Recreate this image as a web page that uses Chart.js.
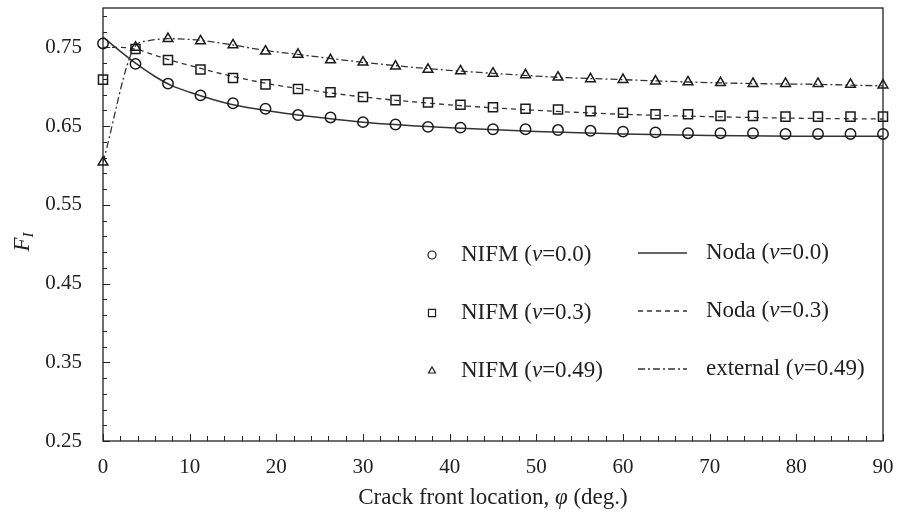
<!DOCTYPE html>
<html>
<head>
<meta charset="utf-8">
<script src="https://cdn.jsdelivr.net/npm/chart.js@4.4.1/dist/chart.umd.min.js"></script>
<style>
  html, body { margin: 0; padding: 0; background: #fff; }
  #wrap { width: 897px; height: 516px; }
</style>
</head>
<body>
<div id="wrap"><canvas id="fiChart" width="897" height="516"></canvas></div>
<script>
// crack front angle of the NIFM nodes (deg.)
const angles = [0, 3.75, 7.5, 11.25, 15, 18.75, 22.5, 26.25, 30, 33.75, 37.5, 41.25, 45,
  48.75, 52.5, 56.25, 60, 63.75, 67.5, 71.25, 75, 78.75, 82.5, 86.25, 90];

const nifm00 = [0.755, 0.729, 0.704, 0.689, 0.679, 0.672, 0.664, 0.661, 0.655, 0.652, 0.649, 0.648, 0.646,
  0.646, 0.645, 0.644, 0.643, 0.642, 0.641, 0.641, 0.641, 0.640, 0.640, 0.640, 0.640];
const nifm03 = [0.709, 0.748, 0.734, 0.722, 0.711, 0.703, 0.697, 0.693, 0.687, 0.683, 0.680, 0.677, 0.674,
  0.672, 0.671, 0.669, 0.667, 0.665, 0.665, 0.663, 0.663, 0.662, 0.662, 0.662, 0.662];
const nifm049 = [0.604, 0.750, 0.761, 0.758, 0.753, 0.745, 0.741, 0.734, 0.731, 0.726, 0.722, 0.720, 0.717,
  0.715, 0.712, 0.710, 0.709, 0.707, 0.706, 0.705, 0.704, 0.704, 0.704, 0.703, 0.702];

// reference curves
const nodaAngles = [0, 2, 4, 6, 8, 10, 15, 20, 25, 30, 40, 50, 60, 70, 80, 90];
const noda00 = [0.763, 0.745, 0.728, 0.713, 0.701, 0.693, 0.677, 0.668, 0.661, 0.655, 0.648, 0.643, 0.640, 0.638, 0.637, 0.637];
const noda03 = [0.750, 0.750, 0.747, 0.740, 0.733, 0.727, 0.713, 0.702, 0.694, 0.687, 0.677, 0.670, 0.665, 0.662, 0.660, 0.659];

const extAngles = [0, 3.75, 5, 7.5, 11.25, 15, 18.75, 22.5, 30, 37.5, 45, 52.5, 60, 67.5, 75, 82.5, 90];
const ext049 = [0.604, 0.752, 0.758, 0.761, 0.759, 0.753, 0.746, 0.741, 0.731, 0.723, 0.717, 0.712, 0.709, 0.706, 0.704, 0.703, 0.701];

const xTicks = [0, 10, 20, 30, 40, 50, 60, 70, 80, 90];
const yTicks = [0.25, 0.35, 0.45, 0.55, 0.65, 0.75];

const legendRows = [
  { marker: "circle", left: "NIFM", nu: "0.0", right: "Noda", rightNu: "0.0", dash: [] },
  { marker: "rect", left: "NIFM", nu: "0.3", right: "Noda", rightNu: "0.3", dash: [5, 4] },
  { marker: "triangle", left: "NIFM", nu: "0.49", right: "external", rightNu: "0.49", dash: [7, 3, 2, 3] },
];

const SERIF = "'Liberation Serif', 'Times New Roman', serif";
const INK = "#222";
const LINE = "#333";

const toXY = (xs, ys) => xs.map((x, i) => ({ x: x, y: ys[i] }));

const markerSet = (data, style, radius) => ({
  data: toXY(angles, data),
  showLine: false,
  pointStyle: style,
  pointRadius: radius,
  pointBorderColor: "#1a1a1a",
  pointBackgroundColor: "rgba(255,255,255,0)",
  pointBorderWidth: 1.5,
  clip: false,
  order: 0,
});

const curveSet = (xs, ys, dash, width) => ({
  data: toXY(xs, ys),
  showLine: true,
  pointRadius: 0,
  borderColor: LINE,
  borderWidth: width,
  borderDash: dash,
  cubicInterpolationMode: "monotone",
  order: 1,
});

// draws a sequence of text runs, some italic, starting at x
function drawRuns(ctx, runs, x, y, size) {
  let cx = x;
  runs.forEach((r) => {
    ctx.font = (r.italic ? "italic " : "") + size + "px " + SERIF;
    ctx.fillText(r.text, cx, y);
    cx += ctx.measureText(r.text).width;
  });
  return cx - x;
}

function runsWidth(ctx, runs, size) {
  let w = 0;
  runs.forEach((r) => {
    ctx.font = (r.italic ? "italic " : "") + size + "px " + SERIF;
    w += ctx.measureText(r.text).width;
  });
  return w;
}

const decorations = {
  id: "decorations",
  beforeDatasetsDraw(chart) {
    const { ctx, chartArea: a, scales } = chart;
    ctx.save();
    ctx.strokeStyle = INK;
    ctx.lineWidth = 1.3;
    ctx.strokeRect(a.left, a.top, a.right - a.left, a.bottom - a.top);

    // inward ticks on the bottom and left axes
    ctx.lineWidth = 1;
    ctx.beginPath();
    for (let v = 0; v <= 90; v += 2) {
      const px = Math.round(scales.x.getPixelForValue(v)) + 0.5;
      const len = v % 10 === 0 ? 7 : 5;
      ctx.moveTo(px, a.bottom);
      ctx.lineTo(px, a.bottom - len);
    }
    for (let i = 0; i <= 27; i++) {
      const v = 0.25 + i * 0.02;
      const py = Math.round(scales.y.getPixelForValue(v)) + 0.5;
      const len = i % 5 === 0 ? 7 : 4;
      ctx.moveTo(a.left, py);
      ctx.lineTo(a.left + len, py);
    }
    ctx.stroke();
    ctx.restore();
  },
  afterDraw(chart) {
    const { ctx, chartArea: a } = chart;
    ctx.save();
    ctx.fillStyle = INK;
    ctx.textBaseline = "middle";
    ctx.textAlign = "left";

    // x axis title
    const xRuns = [
      { text: "Crack front location, " },
      { text: "\u03c6", italic: true },
      { text: " (deg.)" },
    ];
    const xw = runsWidth(ctx, xRuns, 23);
    drawRuns(ctx, xRuns, (a.left + a.right) / 2 - xw / 2, 498, 23);

    // y axis title F_I
    ctx.save();
    ctx.translate(23, 242);
    ctx.rotate(-Math.PI / 2);
    ctx.font = "italic 23px " + SERIF;
    const fw = ctx.measureText("F").width;
    ctx.font = "italic 15px " + SERIF;
    const iw = ctx.measureText("I").width;
    const sx = -(fw + iw) / 2;
    ctx.font = "italic 23px " + SERIF;
    ctx.fillText("F", sx, 0);
    ctx.font = "italic 15px " + SERIF;
    ctx.fillText("I", sx + fw, 6);
    ctx.restore();

    // legend
    const rowY = [255, 313, 371];
    legendRows.forEach((row, i) => {
      const y = rowY[i];
      ctx.strokeStyle = "#1a1a1a";
      ctx.fillStyle = "rgba(255,255,255,0)";
      ctx.lineWidth = 1.2;
      Chart.helpers.drawPoint(ctx, { pointStyle: row.marker, radius: row.marker === "rect" ? 5 : 4, rotation: 0, borderWidth: 1.2 }, 432, y);

      ctx.fillStyle = INK;
      drawRuns(ctx, [
        { text: row.left + " (" },
        { text: "\u03bd", italic: true },
        { text: "=" + row.nu + ")" },
      ], 461, y, 23);

      ctx.beginPath();
      ctx.setLineDash(row.dash);
      ctx.lineWidth = 1.3;
      ctx.strokeStyle = LINE;
      ctx.moveTo(638, y - 2);
      ctx.lineTo(687, y - 2);
      ctx.stroke();
      ctx.setLineDash([]);

      drawRuns(ctx, [
        { text: row.right + " (" },
        { text: "\u03bd", italic: true },
        { text: "=" + row.rightNu + ")" },
      ], 706, y - 2, 23);
    });
    ctx.restore();
  },
};

const ctx = document.getElementById("fiChart").getContext("2d");
new Chart(ctx, {
  type: "scatter",
  data: {
    datasets: [
      markerSet(nifm00, "circle", 5.2),
      markerSet(nifm03, "rect", 6.4),
      markerSet(nifm049, "triangle", 5.6),
      curveSet(nodaAngles, noda00, [], 1.5),
      curveSet(nodaAngles, noda03, [5, 4], 1.3),
      curveSet(extAngles, ext049, [7, 3, 2, 3], 1.3),
    ],
  },
  options: {
    responsive: false,
    animation: false,
    events: [],
    layout: { padding: { top: 8, right: 14, left: 0, bottom: 0 } },
    plugins: {
      legend: { display: false },
      tooltip: { enabled: false },
    },
    scales: {
      x: {
        type: "linear",
        min: 0,
        max: 90,
        afterBuildTicks: (scale) => { scale.ticks = xTicks.map((v) => ({ value: v })); },
        afterFit: (scale) => {
          scale.height = 75;
          scale.paddingLeft = 0;
          scale.paddingRight = 0;
        },
        grid: { display: false, drawTicks: false },
        border: { display: false },
        ticks: {
          padding: 14,
          color: INK,
          font: { family: SERIF, size: 21 },
          maxRotation: 0,
        },
      },
      y: {
        type: "linear",
        min: 0.25,
        max: 0.8,
        afterBuildTicks: (scale) => { scale.ticks = yTicks.map((v) => ({ value: v })); },
        afterFit: (scale) => {
          scale.width = 103;
          scale.paddingTop = 0;
          scale.paddingBottom = 0;
        },
        grid: { display: false, drawTicks: false },
        border: { display: false },
        ticks: {
          padding: 21,
          color: INK,
          font: { family: SERIF, size: 21 },
          callback: (v) => v.toFixed(2),
        },
      },
    },
  },
  plugins: [decorations],
});
</script>
</body>
</html>
